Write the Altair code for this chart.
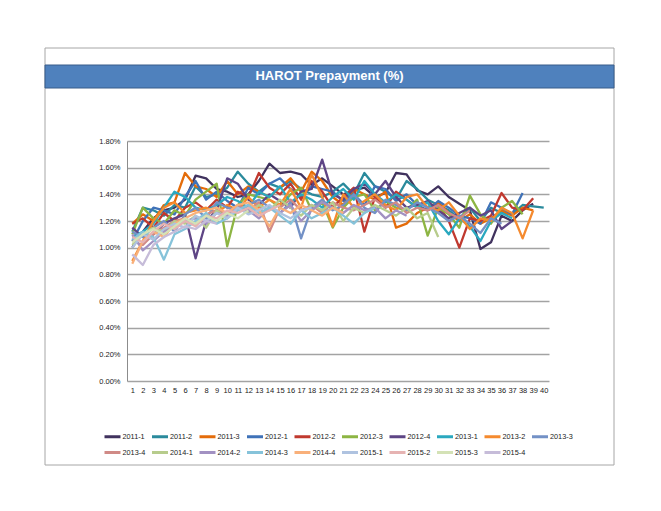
import altair as alt
import pandas as pd

series_names = ["2011-1", "2011-2", "2011-3", "2012-1", "2012-2", "2012-3", "2012-4",
                "2013-1", "2013-2", "2013-3", "2013-4", "2014-1", "2014-2", "2014-3",
                "2014-4", "2015-1", "2015-2", "2015-3", "2015-4"]

series_colors = ["#40325E", "#2A8A9C", "#E46C0A", "#3F72B8", "#C0392F", "#8DB543", "#5E4585",
                 "#2AA8BF", "#F58A2E", "#7391C6", "#D08A86", "#B7CC8C", "#A291C2", "#86C3DA",
                 "#F9B07A", "#AFC3E0", "#E6B3B2", "#D4E2B6", "#C6BCD9"]

# monthly prepayment rate (%) by month since issuance
s2011_1 = [1.00, 1.12, 1.22, 1.28, 1.30, 1.36, 1.54, 1.52, 1.44, 1.42, 1.38, 1.40, 1.50, 1.63, 1.56, 1.57,
           1.55, 1.47, 1.52, 1.46, 1.40, 1.43, 1.45, 1.38, 1.41, 1.56, 1.55, 1.43, 1.40, 1.46, 1.38, 1.33,
           1.28, 0.99, 1.04, 1.24, 1.20, 1.28, 1.33]
s2011_2 = [1.12, 1.30, 1.28, 1.24, 1.32, 1.30, 1.46, 1.38, 1.40, 1.45, 1.57, 1.48, 1.42, 1.48, 1.45, 1.50,
           1.44, 1.40, 1.38, 1.42, 1.48, 1.40, 1.56, 1.46, 1.42, 1.36, 1.50, 1.44, 1.36, 1.32, 1.28, 1.22,
           1.30, 1.20, 1.30, 1.26, 1.25, 1.32, 1.31, 1.30]
s2011_3 = [1.18, 1.25, 1.20, 1.32, 1.34, 1.56, 1.46, 1.44, 1.38, 1.50, 1.40, 1.46, 1.42, 1.38, 1.45, 1.52,
           1.42, 1.57, 1.50, 1.38, 1.32, 1.44, 1.40, 1.36, 1.42, 1.15, 1.18, 1.26, 1.30, 1.34, 1.26, 1.20,
           1.25, 1.18, 1.22, 1.28, 1.24, 1.30, 1.28]
s2012_1 = [1.05, 1.20, 1.30, 1.28, 1.25, 1.38, 1.50, 1.36, 1.42, 1.35, 1.30, 1.45, 1.40, 1.48, 1.52, 1.44,
           1.38, 1.46, 1.44, 1.42, 1.35, 1.40, 1.32, 1.46, 1.44, 1.35, 1.40, 1.32, 1.28, 1.35, 1.30, 1.24,
           1.22, 1.18, 1.34, 1.30, 1.25, 1.41]
s2012_2 = [1.18, 1.22, 1.15, 1.26, 1.20, 1.30, 1.34, 1.28, 1.36, 1.30, 1.42, 1.38, 1.56, 1.45, 1.40, 1.48,
           1.36, 1.50, 1.42, 1.30, 1.38, 1.45, 1.12, 1.38, 1.30, 1.42, 1.36, 1.30, 1.28, 1.32, 1.20, 1.00,
           1.22, 1.20, 1.24, 1.41, 1.30, 1.28, 1.37]
s2012_3 = [1.10, 1.30, 1.22, 1.18, 1.28, 1.24, 1.36, 1.42, 1.48, 1.01, 1.32, 1.40, 1.38, 1.36, 1.30, 1.40,
           1.45, 1.28, 1.34, 1.15, 1.30, 1.38, 1.40, 1.28, 1.35, 1.30, 1.28, 1.36, 1.09, 1.30, 1.25, 1.15,
           1.39, 1.25, 1.18, 1.30, 1.35, 1.25]
s2012_4 = [1.15, 1.08, 1.10, 1.18, 1.22, 1.25, 0.92, 1.20, 1.28, 1.52, 1.48, 1.36, 1.32, 1.40, 1.35, 1.30,
           1.42, 1.44, 1.66, 1.40, 1.36, 1.44, 1.48, 1.40, 1.50, 1.38, 1.30, 1.32, 1.35, 1.28, 1.22, 1.26,
           1.30, 1.24, 1.28, 1.14, 1.20]
s2013_1 = [1.08, 1.12, 1.18, 1.30, 1.42, 1.38, 1.30, 1.28, 1.32, 1.38, 1.35, 1.30, 1.42, 1.38, 1.46, 1.34,
           1.40, 1.36, 1.30, 1.38, 1.44, 1.36, 1.50, 1.40, 1.34, 1.40, 1.36, 1.30, 1.34, 1.20, 1.10, 1.22,
           1.16, 1.05, 1.20, 1.26, 1.22]
s2013_2 = [0.90, 1.05, 1.20, 1.30, 1.34, 1.26, 1.28, 1.30, 1.26, 1.32, 1.28, 1.38, 1.30, 1.36, 1.32, 1.44,
           1.30, 1.55, 1.38, 1.16, 1.40, 1.30, 1.35, 1.40, 1.32, 1.28, 1.38, 1.40, 1.30, 1.28, 1.34, 1.24,
           1.14, 1.22, 1.20, 1.30, 1.26, 1.07, 1.28]
s2013_3 = [1.12, 1.08, 1.15, 1.20, 1.12, 1.25, 1.30, 1.22, 1.34, 1.30, 1.28, 1.32, 1.36, 1.30, 1.26, 1.34,
           1.07, 1.30, 1.36, 1.28, 1.32, 1.40, 1.30, 1.26, 1.36, 1.32, 1.28, 1.34, 1.30, 1.26, 1.20, 1.24,
           1.18, 1.11, 1.22, 1.18]
s2013_4 = [1.05, 1.02, 1.10, 1.15, 1.20, 1.22, 1.18, 1.25, 1.28, 1.26, 1.32, 1.28, 1.34, 1.12, 1.30, 1.36,
           1.28, 1.32, 1.26, 1.34, 1.30, 1.28, 1.32, 1.36, 1.30, 1.34, 1.26, 1.30, 1.28, 1.32, 1.26, 1.22,
           1.28]
s2014_1 = [1.02, 1.10, 1.15, 1.12, 1.20, 1.18, 1.24, 1.15, 1.28, 1.22, 1.30, 1.26, 1.32, 1.28, 1.36, 1.30,
           1.24, 1.32, 1.28, 1.34, 1.20, 1.30, 1.26, 1.32, 1.28, 1.24, 1.30, 1.22, 1.26, 1.08]
s2014_2 = [1.10, 0.98, 1.05, 1.12, 1.16, 1.20, 1.22, 1.18, 1.26, 1.24, 1.30, 1.28, 1.22, 1.30, 1.26, 1.32,
           1.20, 1.28, 1.34, 1.30, 1.26, 1.32, 1.28, 1.30, 1.22, 1.28, 1.24]
s2014_3 = [1.06, 1.12, 1.08, 0.91, 1.10, 1.14, 1.20, 1.26, 1.18, 1.22, 1.28, 1.32, 1.26, 1.30, 1.24, 1.18,
           1.28, 1.22, 1.26, 1.30, 1.24, 1.18, 1.26, 1.30]
s2014_4 = [0.88, 1.05, 1.12, 1.08, 1.18, 1.22, 1.26, 1.28, 1.30, 1.26, 1.32, 1.34, 1.28, 1.16, 1.30, 1.26,
           1.32, 1.28, 1.24, 1.30, 1.26]
s2015_1 = [1.00, 1.10, 1.06, 1.14, 1.18, 1.15, 1.24, 1.20, 1.26, 1.22, 1.30, 1.25, 1.28, 1.32, 1.26, 1.22,
           1.28, 1.30]
s2015_2 = [1.08, 1.04, 1.12, 1.18, 1.14, 1.20, 1.16, 1.24, 1.22, 1.28, 1.26, 1.30, 1.24, 1.28, 1.32]
s2015_3 = [1.04, 1.10, 1.14, 1.10, 1.16, 1.22, 1.18, 1.24, 1.20, 1.26, 1.22, 1.28]
s2015_4 = [0.95, 0.87, 1.02, 1.08, 1.12, 1.16, 1.14, 1.20, 1.18]

all_series = [s2011_1, s2011_2, s2011_3, s2012_1, s2012_2, s2012_3, s2012_4, s2013_1, s2013_2,
              s2013_3, s2013_4, s2014_1, s2014_2, s2014_3, s2014_4, s2015_1, s2015_2, s2015_3, s2015_4]

x_ticks = list(range(1, 41))
y_ticks = [0.0, 0.002, 0.004, 0.006, 0.008, 0.010, 0.012, 0.014, 0.016, 0.018]
title_text = "HAROT Prepayment (%)"

rows = []
for k, (name, vals) in enumerate(zip(series_names, all_series)):
    for i, v in enumerate(vals):
        rows.append({"series": name, "month": i + 1, "rate": v / 100.0, "k": k})
df = pd.DataFrame(rows)

FONT = "Liberation Sans, Arial, sans-serif"
one = pd.DataFrame({"d": [0]})

frame = alt.Chart(one).mark_rect(fillOpacity=0, stroke="#A6A6A6", strokeWidth=1).encode(
    x=alt.value(-82), x2=alt.value(487), y=alt.value(-93), y2=alt.value(324))

bar = alt.Chart(one).mark_rect(fill="#4F81BD", stroke="#385D8A", strokeWidth=1).encode(
    x=alt.value(-82), x2=alt.value(487), y=alt.value(-76), y2=alt.value(-53))

title = alt.Chart(one).mark_text(text=title_text, color="white", fontWeight="bold", fontSize=13,
                                 font=FONT, align="center", baseline="middle").encode(
    x=alt.value(202.5), y=alt.value(-65))

lines = alt.Chart(df).mark_line(strokeWidth=2.3, strokeJoin="round").encode(
    x=alt.X("month:Q", scale=alt.Scale(domain=[0.5, 40.5], nice=False, zero=False),
            axis=alt.Axis(values=x_ticks, title=None, grid=False, ticks=False, domain=False,
                          labelPadding=5, labelFontSize=7.5, labelFont=FONT, labelColor="#222222",
                          labelFlush=False, labelOverlap=False)),
    y=alt.Y("rate:Q", scale=alt.Scale(domain=[0, 0.018], nice=False),
            axis=alt.Axis(values=y_ticks, format=".2%", title=None, ticks=False, grid=True,
                          gridColor="#A3A3A3", gridWidth=1.5, domainColor="#8C8C8C", domainWidth=1,
                          labelPadding=7, labelFontSize=7.5, labelFont=FONT, labelColor="#222222")),
    color=alt.Color("series:N", scale=alt.Scale(domain=series_names, range=series_colors),
                    legend=alt.Legend(orient="none", legendX=-24, legendY=286, columns=10,
                                      direction="horizontal",
                                      title=None, symbolType="stroke", symbolSize=256,
                                      symbolStrokeWidth=3, labelFontSize=7.3, labelFont=FONT,
                                      labelColor="#222222", labelOffset=0.5, columnPadding=-0.5,
                                      rowPadding=-3, padding=0)),
    order=alt.Order("k:Q"),
    detail="series:N",
)

chart = alt.layer(frame, bar, title, lines).properties(
    width=422, height=240,
    autosize=alt.AutoSizeParams(type="none"),
    padding={"left": 119, "top": 133, "right": 80, "bottom": 100},
    background="white",
).configure_view(stroke=None)

chart.save("out.html", embed_options={"renderer": "svg", "actions": False})
